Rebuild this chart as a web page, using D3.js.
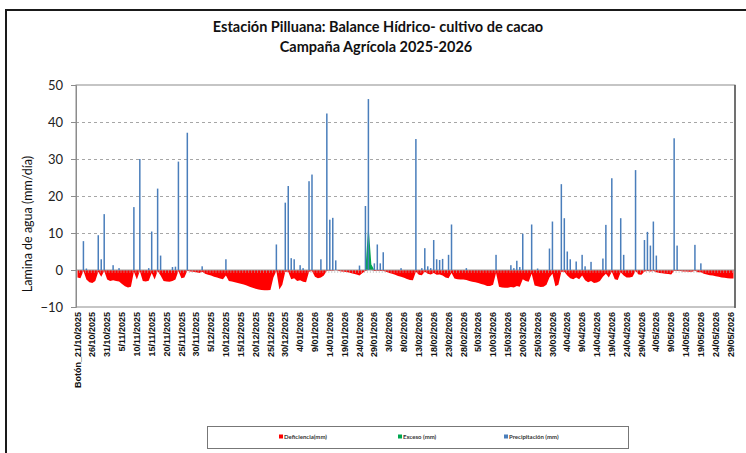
<!DOCTYPE html>
<html>
<head>
<meta charset="utf-8">
<script src="https://cdn.jsdelivr.net/npm/d3@7"></script>
<style>
  body { margin: 0; background: #fff; }
  svg { display: block; font-family: Lato, "Open Sans", sans-serif; }
</style>
</head>
<body>
<svg id="chart" width="746" height="453"></svg>
<script>
// daily series, 21/10/2025 (Botón) .. 30/05/2026
var firstDay = new Date(2025, 9, 21),
    lastDay = new Date(2026, 4, 31);

var precipitation = [
  0, 0, 7.8, 0.4, 0, 0, 0, 9.4, 2.9, 15.1, 0, 0, 1.3, 0, 0.5, 0, 0, 0, 0, 17,
  0, 30, 0, 0, 0.5, 10.4, 0, 22, 3.9, 0, 0, 0, 0.8, 0.9, 29.3, 0, 0, 37.1, 0, 0,
  0, 0, 1.0, 0, 0, 0, 0, 0, 0, 0, 2.9, 0, 0, 0, 0, 0, 0, 0, 0, 0,
  0, 0, 0, 0, 0, 0, 0, 6.9, 0, 0, 18.2, 22.7, 3.2, 2.9, 0, 1.3, 0.5, 0, 24, 25.8,
  0, 0, 2.9, 0, 42.3, 13.6, 14.1, 2.6, 0, 0, 0, 0, 0, 0, 0, 1.2, 0, 17.3, 46.2, 0,
  1.8, 6.9, 1.8, 4.8, 0, 0, 0, 0, 0, 0.5, 0, 0, 0, 0, 35.4, 0, 0.5, 5.9, 1.0, 0.5,
  8.1, 2.9, 2.7, 3.0, 0, 4.1, 12.3, 0, 0, 0, 0, 0.5, 0, 0, 0, 0, 0, 0, 0, 0,
  0, 4.1, 0, 0, 0, 0, 1.3, 0.5, 2.5, 0.8, 9.8, 0, 0, 12.3, 0, 0.4, 0, 0, 0, 5.8,
  13.1, 0, 0, 23.2, 14.0, 5.0, 2.9, 0, 2.3, 0, 4.1, 1.0, 0, 2.2, 0, 0, 0, 3.1, 12.2, 0,
  24.8, 0, 0, 14.0, 4.1, 0, 0, 0, 27.0, 0, 0, 8.1, 10.3, 6.6, 13.1, 3.9, 0, 0, 0, 0,
  0, 35.6, 6.6, 0, 0, 0, 0, 0, 6.8, 0, 1.8, 0, 0, 0, 0, 0, 0, 0, 0, 0,
  0, 0
];

var deficiency = [
  -2.0, -2.2, -0.3, -2.6, -3.3, -3.5, -3.0, -0.5, -1.8, -0.3, -2.6, -3.0, -2.8, -3.0, -3.1, -3.8, -4.4, -4.7, -4.5, -0.5,
  -2.6, -0.3, -3.0, -3.1, -2.9, -0.8, -2.6, -0.3, -1.5, -3.0, -3.1, -3.2, -3.0, -2.6, -0.3, -2.2, -2.0, -0.2, -0.4, -0.5,
  -0.6, -0.8, -0.5, -1.0, -1.3, -1.5, -1.8, -2.0, -2.3, -2.5, -1.5, -3.0, -3.1, -3.3, -3.5, -3.7, -3.9, -4.2, -4.5, -4.8,
  -5.1, -5.3, -5.4, -5.5, -5.5, -5.4, -2.0, -0.3, -5.3, -4.0, -0.5, -0.5, -2.5, -2.2, -3.0, -2.8, -3.2, -3.3, -0.5, -0.3,
  -1.8, -2.2, -2.0, -1.5, -0.2, -0.2, -0.2, 0, -0.3, -0.4, -0.5, -0.6, -0.8, -1.0, -1.2, -1.5, -0.8, -0.3, 0, 0,
  -0.3, -0.2, -0.3, -0.3, -0.5, -0.8, -1.0, -1.3, -1.6, -1.8, -2.1, -2.4, -2.7, -2.8, -0.5, -1.3, -1.4, -0.5, -1.0, -1.2,
  -0.8, -1.3, -1.2, -1.5, -2.0, -2.2, -0.8, -2.3, -2.5, -2.6, -2.6, -2.7, -3.0, -3.2, -3.3, -3.5, -3.8, -4.0, -4.3, -4.3,
  -4.0, -0.8, -4.5, -4.7, -4.8, -4.8, -4.6, -4.7, -4.3, -4.5, -2.5, -3.0, -3.2, -1.0, -4.2, -4.4, -4.6, -4.5, -4.0, -2.0,
  -1.0, -4.4, -4.0, -0.5, -0.5, -1.5, -2.2, -2.5, -2.0, -2.5, -1.5, -2.8, -3.3, -3.0, -3.5, -3.4, -3.0, -1.8, -1.0, -2.0,
  -0.5, -2.5, -2.7, -0.6, -1.5, -2.0, -2.0, -1.8, -0.3, -1.2, -1.3, -0.4, -0.3, -0.4, -0.3, -0.6, -0.8, -0.9, -1.0, -1.1,
  -1.2, -0.2, -0.3, -0.3, -0.4, -0.4, -0.5, -0.5, -0.2, -0.6, -0.6, -1.0, -1.2, -1.4, -1.5, -1.7, -1.8, -2.0, -2.1, -2.2,
  -2.3, -2.3
];

// excess only on a couple of days at the end of January
var excess = [
  0, 0, 0, 0, 0, 0, 0, 0, 0, 0, 0, 0, 0, 0, 0, 0, 0, 0, 0, 0,
  0, 0, 0, 0, 0, 0, 0, 0, 0, 0, 0, 0, 0, 0, 0, 0, 0, 0, 0, 0,
  0, 0, 0, 0, 0, 0, 0, 0, 0, 0, 0, 0, 0, 0, 0, 0, 0, 0, 0, 0,
  0, 0, 0, 0, 0, 0, 0, 0, 0, 0, 0, 0, 0, 0, 0, 0, 0, 0, 0, 0,
  0, 0, 0, 0, 0, 0, 0, 0, 0, 0, 0, 0, 0, 0, 0, 0, 0, 0, 12.5, 1.5,
  0, 0, 0, 0, 0, 0, 0, 0, 0, 0, 0, 0, 0, 0, 0, 0, 0, 0, 0, 0,
  0, 0, 0, 0, 0, 0, 0, 0, 0, 0, 0, 0, 0, 0, 0, 0, 0, 0, 0, 0,
  0, 0, 0, 0, 0, 0, 0, 0, 0, 0, 0, 0, 0, 0, 0, 0, 0, 0, 0, 0,
  0, 0, 0, 0, 0, 0, 0, 0, 0, 0, 0, 0, 0, 0, 0, 0, 0, 0, 0, 0,
  0, 0, 0, 0, 0, 0, 0, 0, 0, 0, 0, 0, 0, 0, 0, 0, 0, 0, 0, 0,
  0, 0, 0, 0, 0, 0, 0, 0, 0, 0, 0, 0, 0, 0, 0, 0, 0, 0, 0, 0,
  0, 0
];

var yTicks = [-10, 0, 10, 20, 30, 40, 50];
var seriesNames = ['Deficiencia(mm)', 'Exceso (mm)', 'Precipitación (mm)'];
var seriesColors = ['#ff0000', '#00a650', '#4a7ebb'];

var fmt = d3.timeFormat('%-d/%m/%Y');
var days = d3.timeDay.range(firstDay, lastDay).map(fmt);

var svg = d3.select('#chart');

var margin = {top: 85, right: 11, bottom: 146, left: 76},
    width = 746 - margin.left - margin.right,
    height = 453 - margin.top - margin.bottom;

// outer frame
svg.append('path')
  .attr('d', 'M6,453V10H746')
  .attr('fill', 'none')
  .attr('stroke', '#1a1a1a')
  .attr('stroke-width', 2);

svg.append('text')
  .attr('x', 378).attr('y', 32)
  .attr('text-anchor', 'middle')
  .style('font-weight', 'bold').style('font-size', '14.5px')
  .attr('fill', '#111')
  .text('Estación Pilluana: Balance Hídrico- cultivo de cacao');

svg.append('text')
  .attr('x', 376).attr('y', 52)
  .attr('text-anchor', 'middle')
  .style('font-weight', 'bold').style('font-size', '14.5px')
  .attr('fill', '#111')
  .text('Campaña Agrícola  2025-2026');

var x = d3.scaleBand()
  .domain(days)
  .range([0, width])
  .padding(0);

var y = d3.scaleLinear()
  .domain([-10, 50])
  .range([height, 0]);

var bw = x.bandwidth();
function cx(i) { return x(days[i]) + bw / 2; }

var chart = svg.append('g')
  .attr('transform', 'translate(' + margin.left + ',' + margin.top + ')');

// grid
chart.append('g')
  .attr('class', 'grid')
  .call(d3.axisLeft(y).tickValues([10, 20, 30, 40]).tickSize(-width).tickFormat(''))
  .call(function(g) {
    g.select('.domain').remove();
    g.selectAll('line').attr('stroke', '#a6a6a6').attr('stroke-dasharray', '3,3');
  });

// deficiency (red) and excess (green) as area series
var area = d3.area()
  .x(function(d, i) { return cx(i); })
  .y0(y(0))
  .y1(function(d) { return y(d); });

chart.append('path')
  .datum(deficiency)
  .attr('fill', seriesColors[0])
  .attr('d', area);

chart.append('path')
  .datum(excess)
  .attr('fill', seriesColors[1])
  .attr('d', area);

// zero line with category ticks
chart.append('line')
  .attr('x1', 0).attr('x2', width)
  .attr('y1', y(0)).attr('y2', y(0))
  .attr('stroke', '#999').attr('stroke-width', 1);

chart.append('g')
  .selectAll('line')
  .data(days)
  .enter().append('line')
    .attr('x1', function(d) { return x(d) + 0.5; })
    .attr('x2', function(d) { return x(d) + 0.5; })
    .attr('y1', y(0)).attr('y2', y(0) + 3)
    .attr('stroke', '#b0b0b0').attr('stroke-width', 0.6);

// precipitation bars
chart.append('g')
  .selectAll('rect')
  .data(precipitation.map(function(v, i) { return {day: days[i], value: v}; })
    .filter(function(d) { return d.value > 0; }))
  .enter().append('rect')
    .attr('x', function(d) { return x(d.day) + bw / 2 - 0.75; })
    .attr('y', function(d) { return y(d.value); })
    .attr('width', 1.5)
    .attr('height', function(d) { return y(0) - y(d.value); })
    .attr('fill', seriesColors[2]);

// plot border
chart.append('rect')
  .attr('width', width).attr('height', height)
  .attr('fill', 'none')
  .attr('stroke', '#8c8c8c').attr('stroke-width', 1);
chart.append('line')
  .attr('x1', width).attr('x2', width).attr('y1', 0).attr('y2', height + 1)
  .attr('stroke', '#555').attr('stroke-width', 1.5);

// y axis
chart.append('g')
  .attr('class', 'y axis')
  .call(d3.axisLeft(y).tickValues(yTicks).tickSize(5).tickPadding(8))
  .call(function(g) {
    g.select('.domain').attr('stroke', '#8c8c8c');
    g.selectAll('line').attr('stroke', '#8c8c8c');
    g.selectAll('text').attr('fill', '#222').style('font-size', '13px')
      .style('font-family', 'Lato, sans-serif');
  });

// x axis labels
var xAxis = d3.axisBottom(x)
  .tickValues(days.filter(function(d, i) { return i % 5 === 0; }))
  .tickSize(0)
  .tickFormat(function(d, i) { return i === 0 ? 'Botón_' + d : d; });

chart.append('g')
  .attr('class', 'x axis')
  .attr('transform', 'translate(0,' + height + ')')
  .call(xAxis)
  .call(function(g) {
    g.select('.domain').remove();
    g.selectAll('text')
      .attr('transform', 'rotate(-90)')
      .attr('x', -5).attr('y', 0).attr('dy', '0.35em')
      .style('text-anchor', 'end')
      .style('font-size', '9px').style('font-weight', 'bold')
      .style('font-family', '"Liberation Sans Narrow", "Liberation Sans", sans-serif')
      .attr('fill', '#111');
  });

// y label
svg.append('text')
  .attr('transform', 'translate(32,224) rotate(-90)')
  .attr('text-anchor', 'middle')
  .style('font-size', '12.5px')
  .attr('fill', '#111')
  .text('Lamina de agua (mm/día)');

// legend
var legend = svg.append('g');
legend.append('rect')
  .attr('x', 207.5).attr('y', 426.5).attr('width', 421).attr('height', 22)
  .attr('fill', '#fff').attr('stroke', '#777');

var legendX = [279, 398, 504];
var item = legend.selectAll('.item')
  .data(seriesNames)
  .enter().append('g')
    .attr('transform', function(d, i) { return 'translate(' + legendX[i] + ',437)'; });

item.append('rect')
  .attr('x', 0).attr('y', -2.5).attr('width', 4).attr('height', 4)
  .attr('fill', function(d, i) { return seriesColors[i]; });
item.append('text')
  .attr('x', 5).attr('y', 2)
  .style('font-size', '6px').style('font-weight', 'bold')
  .attr('fill', '#333')
  .text(function(d) { return d; });
</script>
</body>
</html>
